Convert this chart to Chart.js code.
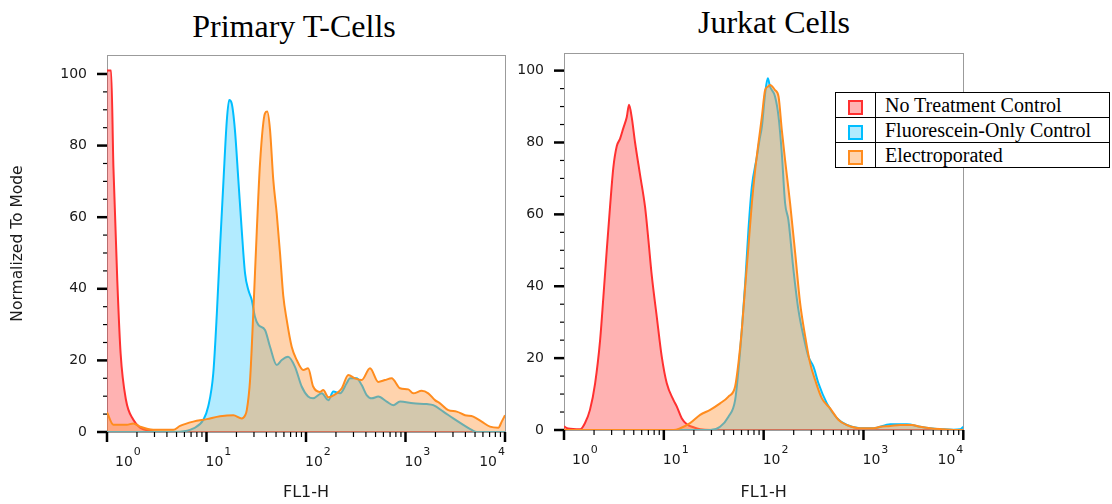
<!DOCTYPE html>
<html>
<head>
<meta charset="utf-8">
<script src="https://cdn.jsdelivr.net/npm/chart.js@4.4.1/dist/chart.umd.min.js"></script>
<style>
  body { margin: 0; background: #fff; }
  #wrap { position: relative; width: 1112px; height: 504px; overflow: hidden; }
  canvas { position: absolute; top: 0; }
  .title { position: absolute; width: 400px; text-align: center; font: 32px "Liberation Serif", serif; line-height: 32px; color: #000; }
  #legend { position: absolute; left: 835px; top: 92px; width: 275px; border-collapse: collapse; background: #fff;
            font: 20px "Liberation Serif", serif; color: #000; }
  #legend td { border: 1.5px solid #000; height: 24px; padding: 0; line-height: 20px; }
  #legend td.sw { width: 39px; text-align: center; }
  #legend td.lbl { padding-left: 9px; white-space: nowrap; }
  #legend span { display: inline-block; width: 11px; height: 11px; vertical-align: middle; }
</style>
</head>
<body>
<div id="wrap">
  <div class="title" style="left:94px; top:10px;">Primary T-Cells</div>
  <div class="title" style="left:574px; top:6px;">Jurkat Cells</div>
  <canvas id="tcellChart" width="512" height="504" style="left:0;"></canvas>
  <canvas id="jurkatChart" width="600" height="504" style="left:512px;"></canvas>
  <table id="legend"></table>
</div>
<script>
const seriesNames = ['No Treatment Control', 'Fluorescein-Only Control', 'Electroporated'];
const lineColors = ['rgb(255,48,48)', 'rgb(0,190,255)', 'rgb(255,140,30)'];
const fillColors = ['rgba(255,0,0,0.3)', 'rgba(0,190,255,0.3)', 'rgba(255,150,60,0.42)'];

const xMajorTicks = [1, 10, 100, 1000, 10000];
const xTickExponents = ['0', '1', '2', '3', '4'];

// PRIMARY T-CELLS (FL1-H intensity, % of mode)
const tcellNoTreatX = [1, 1.1, 1.16, 1.27, 1.37, 1.55, 1.84, 2.15, 2.7, 3.5, 10000];
const tcellNoTreat  = [101, 101, 74, 42, 22, 9, 3.4, 1.2, 0.3, 0, 0];

const tcellFluorX = [1, 5.4, 7.4, 9.3, 10.4, 11.7, 12.7, 13.7, 14.8, 16.0, 16.9, 17.9, 19.3, 20.9, 22.6,
  24.4, 26.3, 28.5, 30.7, 33.2, 38.7, 43.5, 50.8, 57, 66, 77.5, 90.5, 105, 118, 144, 168, 188, 220, 256,
  277, 323, 363, 407, 457, 533, 647, 754, 881, 1197, 1633, 1901, 2399, 3020, 3811, 4624, 5200, 10000];
const tcellFluor = [0, 0.1, 1.0, 3.4, 7.1, 16.4, 33, 52, 70, 87, 92.7, 91.8, 84.4, 70.4, 56.4,
  44.3, 39.7, 36.9, 32.2, 29.9, 28.5, 23.8, 18.7, 20.1, 21, 18.2, 12.7, 9.9, 9.4, 10.8, 8.9, 11.3, 10.8, 13.6,
  15, 15, 13.1, 10.3, 9.4, 9.9, 8.5, 7.5, 8.5, 8, 7.8, 7.5, 5.7, 3.8, 2, 0.6, 0, 0];

const tcellElectroX = [1, 1.16, 1.58, 1.84, 2.15, 2.92, 4.64, 5.42, 7.36, 10.05, 13.7, 18.6, 22.6, 24.4, 25.4,
  27.4, 29.5, 32.0, 34.5, 38.7, 40.8, 43.5, 46.9, 50.8, 54.8, 59.1, 64.0, 71.8, 80.7, 94.0, 105, 118, 138, 149,
  168, 203, 229, 266, 311, 363, 440, 533, 622, 726, 881, 1067, 1197, 1455, 1694, 1977, 2222, 2692, 3271, 3963,
  4800, 5834, 7063, 8570, 9270, 10000];
const tcellElectro = [5.5, 2, 2, 2.4, 1.5, 0.6, 0.6, 1.7, 2.9, 3.6, 4.4, 4.7, 3.8, 4.6, 6.1,
  14.5, 33, 56, 75, 89, 89.5, 84.4, 70.4, 61, 50, 38, 31.3, 23.8, 20.1, 17.3, 17.8, 12.7, 11.2, 11.7,
  9.7, 10.8, 12.2, 15.9, 15, 14.5, 17.8, 14, 14.5, 15, 12.2, 11.9, 10.8, 11.5, 10.8, 8.9, 8, 6.1, 5.7, 4.7,
  4.3, 2.9, 1.5, 1.2, 2.9, 4.7];

// JURKAT CELLS
const jurkatNoTreatX = [1, 1.1, 1.45, 1.62, 1.82, 2.05, 2.30, 2.48, 2.68, 2.89, 3.12, 3.38, 3.64, 3.93, 4.25,
  4.48, 4.77, 5.15, 5.78, 6.49, 7.00, 7.57, 8.50, 9.53, 10.7, 12.5, 13.5, 15.1, 17.0, 19.8, 23.1, 30, 10000];
const jurkatNoTreat = [1, 0.4, 0.2, 1.9, 5.6, 13, 25, 37, 50, 62, 73, 79, 81, 84, 87,
  90.5, 87, 80, 71, 62, 53, 43, 31.5, 20.4, 13, 8.3, 6.5, 3.3, 1.6, 0.75, 0.2, 0, 0];

const jurkatFluorX = [1, 29.1, 36.6, 44.4, 51.8, 55.9, 60.4, 65.3, 70.4, 76.2, 85.5, 90.8, 96.0, 103.5, 110,
  116, 130, 141, 152, 164, 177, 199, 223, 251, 281, 316, 354, 430, 542, 682, 927, 1261, 1854, 2729, 3707,
  4668, 7997, 9333, 10000];
const jurkatFluor = [0, 0, 0.9, 3.7, 8.3, 16.7, 27.8, 40.8, 55.7, 67.7, 76, 80.7, 84.4, 93.7, 97.9,
  95.5, 92.8, 87.2, 77, 63.1, 58.4, 44.5, 33.4, 26, 20.4, 17.6, 13, 7.4, 3.3, 1.4, 0.5, 0.5, 1.6, 1.6, 0.9,
  0.5, 0.1, 0.2, 0.9];

const jurkatElectroX = [1, 12.5, 14.6, 18.3, 23.1, 29.1, 36.6, 44.4, 51.8, 55.9, 60.4, 65.3, 70.4, 76.2, 82.2,
  88.7, 96.0, 103.5, 110, 116, 130, 141, 152, 164, 184, 207, 232, 261, 292, 328, 383, 464, 563, 682, 927,
  1261, 1472, 1854, 2334, 3061, 3707, 4668, 6348, 7997, 10000];
const jurkatElectro = [0, 0, 0.5, 1.9, 4.2, 5.6, 7.4, 9.3, 12.1, 18.6, 27.8, 39.9, 51, 63.1, 72.4,
  79.8, 87.2, 94.6, 95.5, 96, 94.6, 92.8, 83.5, 75.1, 63.1, 49.2, 35.3, 26, 18.6, 13.9, 8.8, 6, 2.8, 1.4, 0.5,
  0.5, 0.9, 1.1, 1.4, 1.4, 0.9, 0.5, 0.2, 0, 0];

const toPoints = (xs, ys) => xs.map((x, i) => ({ x: x, y: ys[i] }));

function makeDatasets(series) {
  return series.map((s, i) => ({
    label: seriesNames[i],
    data: toPoints(s[0], s[1]),
    borderColor: lineColors[i],
    backgroundColor: fillColors[i],
    borderWidth: 2,
    pointRadius: 0,
    fill: 'origin',
    cubicInterpolationMode: 'monotone',
    order: 3 - i
  }));
}

// frame, tick marks and 10^n labels
const axisDecor = {
  id: 'axisDecor',
  beforeDatasetsDraw(chart) {
    const { ctx, chartArea: a } = chart;
    ctx.save();
    ctx.strokeStyle = '#9b9b9b';
    ctx.lineWidth = 1;
    ctx.strokeRect(Math.round(a.left) + 0.5, Math.round(a.top) + 0.5,
      Math.round(a.right - a.left), Math.round(a.bottom - a.top));
    ctx.restore();
  },
  afterDraw(chart) {
    const { ctx, chartArea: a } = chart;
    const x = chart.scales.x, y = chart.scales.y;
    const tick = (x1, y1, x2, y2, w) => {
      ctx.lineWidth = w;
      ctx.beginPath(); ctx.moveTo(x1, y1); ctx.lineTo(x2, y2); ctx.stroke();
    };
    ctx.save();
    ctx.strokeStyle = '#000';
    for (let v = 0; v <= 100; v += 5) {
      const py = y.getPixelForValue(v);
      const major = v % 20 === 0;
      tick(a.left - (major ? 10 : 4), py, a.left, py, major ? 2.5 : 1.2);
    }
    xMajorTicks.forEach((v, i) => {
      const px = x.getPixelForValue(v);
      tick(px, a.bottom, px, a.bottom + 10, 2.5);
      if (i < xMajorTicks.length - 1) {
        for (let k = 2; k <= 9; k++) {
          const pm = x.getPixelForValue(v * k);
          tick(pm, a.bottom, pm, a.bottom + 5, 1.2);
        }
      }
    });
    ctx.fillStyle = '#1a1a1a';
    xMajorTicks.forEach((v, i) => {
      const px = x.getPixelForValue(v);
      ctx.font = '14px "DejaVu Sans"';
      const wb = ctx.measureText('10').width;
      ctx.font = '11px "DejaVu Sans"';
      const we = ctx.measureText(xTickExponents[i]).width;
      let sx = px - 1;
      if (i === 0) sx = px + 8;
      if (i === xMajorTicks.length - 1) sx = px - wb - we - 1;
      ctx.font = '14px "DejaVu Sans"';
      ctx.fillText('10', sx, a.bottom + 34);
      ctx.font = '11px "DejaVu Sans"';
      ctx.fillText(xTickExponents[i], sx + wb + 1, a.bottom + 23);
    });
    ctx.restore();
  }
};

function makeOptions(opt) {
  return {
    responsive: false,
    animation: false,
    devicePixelRatio: 1,
    layout: { padding: opt.padding },
    plugins: { legend: { display: false }, tooltip: { enabled: false } },
    scales: {
      x: {
        type: 'logarithmic',
        min: 1,
        max: 10000,
        grid: { display: false, drawTicks: false },
        border: { display: false },
        ticks: { display: false },
        title: { display: true, text: 'FL1-H', color: '#1a1a1a',
                 font: { family: 'DejaVu Sans', size: 16 }, padding: { top: 0, bottom: 2 } },
        afterFit: s => { s.height = opt.xHeight; }
      },
      y: {
        type: 'linear',
        min: 0,
        max: opt.yMax,
        grid: { display: false, drawTicks: false },
        border: { display: false },
        ticks: { stepSize: 20, includeBounds: false, padding: 20, color: '#1a1a1a',
                 font: { family: 'DejaVu Sans', size: 14 } },
        title: { display: opt.yTitle, text: 'Normalized To Mode', color: '#1a1a1a',
                 font: { family: 'DejaVu Sans', size: 15.5 }, padding: { top: 9, bottom: 0 } },
        afterFit: s => { s.width = opt.yWidth; }
      }
    }
  };
}

// PRIMARY T-CELLS CHART
new Chart(document.getElementById('tcellChart'), {
  type: 'line',
  data: { datasets: makeDatasets([
    [tcellNoTreatX, tcellNoTreat], [tcellFluorX, tcellFluor], [tcellElectroX, tcellElectro]]) },
  options: makeOptions({ padding: { top: 55, right: 7, bottom: 0, left: 0 },
                         xHeight: 72, yWidth: 107, yMax: 105.3, yTitle: true }),
  plugins: [axisDecor]
});

// JURKAT CHART
new Chart(document.getElementById('jurkatChart'), {
  type: 'line',
  data: { datasets: makeDatasets([
    [jurkatNoTreatX, jurkatNoTreat], [jurkatFluorX, jurkatFluor], [jurkatElectroX, jurkatElectro]]) },
  options: makeOptions({ padding: { top: 53, right: 148.7, bottom: 0, left: 0 },
                         xHeight: 74, yWidth: 52, yMax: 104.9, yTitle: false }),
  plugins: [axisDecor]
});

// LEGEND
const legend = document.getElementById('legend');
seriesNames.forEach((name, i) => {
  const tr = document.createElement('tr');
  tr.innerHTML = '<td class="sw"><span style="border:2px solid ' + lineColors[i] +
    ';background:' + fillColors[i] + '"></span></td><td class="lbl">' + name + '</td>';
  legend.appendChild(tr);
});
</script>
</body>
</html>
